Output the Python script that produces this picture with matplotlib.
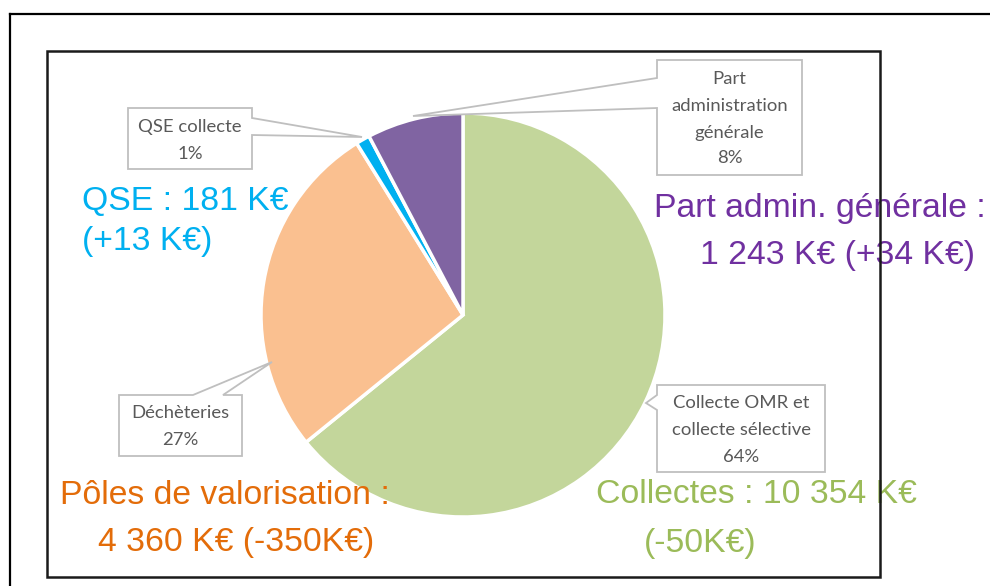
import matplotlib
matplotlib.use("Agg")
import matplotlib.pyplot as plt
from matplotlib.patches import Polygon, Rectangle
from matplotlib.lines import Line2D

# ---- data ----
categories = ["Collecte OMR et\ncollecte sélective", "Déchèteries", "QSE collecte",
              "Part\nadministration\ngénérale"]
values = [10354, 4360, 181, 1243]          # K€
pct_labels = ["64%", "27%", "1%", "8%"]
slice_colors = ["#C3D69B", "#FAC090", "#00B0F0", "#8064A2"]

big_texts = ["QSE : 181 K€\n(+13 K€)",
             "Part admin. générale :\n1 243 K€ (+34 K€)",
             "Pôles de valorisation :\n4 360 K€ (-350K€)",
             "Collectes : 10 354 K€\n(-50K€)"]
big_colors = ["#00B0F0", "#7030A0", "#E36C09", "#9BBB59"]

W, H = 990, 586
fig = plt.figure(figsize=(W / 100, H / 100), dpi=100)
ax = fig.add_axes([0, 0, 1, 1])

def Y(y):
    return H - y

# pie
ax.pie(values, colors=slice_colors, startangle=90, counterclock=False,
       center=(463, Y(315)), radius=202, frame=True,
       wedgeprops=dict(edgecolor="white", linewidth=2.5))
ax.set_xlim(0, W)
ax.set_ylim(0, H)
ax.set_aspect("equal")
ax.axis("off")

# callouts: polygon outlines (box + pointer) and text
callouts = [
    ([(657, 385), (825, 385), (825, 472), (657, 472), (657, 410), (646, 403), (657, 395)],
     741, [403, 430, 457], 0),
    ([(119, 395), (193, 395), (272, 362), (223, 395), (242, 395), (242, 456), (119, 456)],
     180, [413, 440], 1),
    ([(128, 108), (252, 108), (252, 118), (362, 137), (252, 135), (252, 169), (128, 169)],
     190, [127, 154], 2),
    ([(657, 60), (802, 60), (802, 175), (657, 175), (657, 108), (413, 116), (657, 78)],
     729.5, [79, 106, 133, 158], 3),
]
for poly, cx, ys, i in callouts:
    p = Polygon([(x, Y(y)) for x, y in poly], closed=True, facecolor="white",
                edgecolor="#BFBFBF", linewidth=1.3, zorder=3)
    ax.add_patch(p)
    lines = categories[i].split("\n") + [pct_labels[i]]
    for ln, yy in zip(lines, ys):
        ax.text(cx, Y(yy), ln, ha="center", va="center", color="#595959",
                fontsize=13.3, family="Lato", zorder=4)

# big coloured texts (each line placed at its baseline)
big_font = dict(family="Liberation Sans", fontsize=24.3)
big_layout = [
    # (line x positions, baselines, alignment)
    ([82, 82], [210, 250], "left"),
    ([820, 837], [217, 264], "center"),
    ([225, 236], [504, 551], "center"),
    ([756, 700], [503, 552], "center"),
]
for txt, col, (xs, bs, ha) in zip(big_texts, big_colors, big_layout):
    for ln, x, b in zip(txt.split("\n"), xs, bs):
        ax.text(x, Y(b), ln, ha=ha, va="baseline", color=col, zorder=5, **big_font)

# frames
ax.add_line(Line2D([10, 10], [Y(14), Y(600)], color="black", linewidth=1.6, zorder=6))
ax.add_line(Line2D([10, 1000], [Y(14), Y(14)], color="black", linewidth=1.6, zorder=6))
ax.add_patch(Rectangle((47, Y(577)), 833, 526, fill=False, edgecolor="#1a1a1a",
                       linewidth=1.8, zorder=6))

fig.savefig("out.png", dpi=100)
